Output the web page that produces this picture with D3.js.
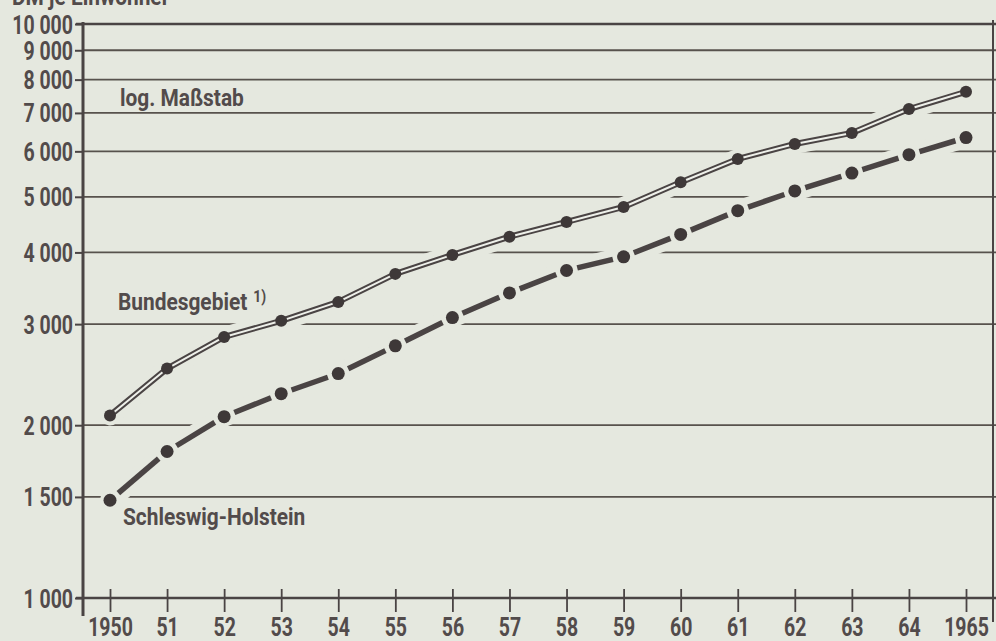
<!DOCTYPE html>
<html>
<head>
<meta charset="utf-8">
<script src="https://cdn.jsdelivr.net/npm/d3@7"></script>
<style>
  html, body { margin: 0; padding: 0; background: #e5e8df; }
  svg { display: block; }
  text { font-family: "Roboto", "DejaVu Sans Condensed", sans-serif; font-weight: bold; fill: #524b4b; }
</style>
</head>
<body>
<svg id="chart" width="996" height="641"></svg>
<script>
// Jahre und Achsenbeschriftung
const years = [1950, 1951, 1952, 1953, 1954, 1955, 1956, 1957, 1958, 1959, 1960, 1961, 1962, 1963, 1964, 1965];
const yearLabels = ["1950", "51", "52", "53", "54", "55", "56", "57", "58", "59", "60", "61", "62", "63", "64", "1965"];

// DM je Einwohner
const bundesgebiet = [2080, 2510, 2850, 3040, 3280, 3670, 3960, 4260, 4520, 4800, 5300, 5820, 6180, 6460, 7110, 7620];
const schleswigHolstein = [1480, 1800, 2070, 2270, 2460, 2750, 3080, 3400, 3720, 3930, 4300, 4730, 5120, 5500, 5920, 6340];

// logarithmische Skala
const yTicks = [1000, 1500, 2000, 3000, 4000, 5000, 6000, 7000, 8000, 9000, 10000];
const gridValues = [1500, 2000, 3000, 4000, 5000, 6000, 7000, 8000, 9000];

const W = 996, H = 641;
const bg = "#e5e8df";
const ink = "#4a4444";
const condenseDigits = 0.78;  // schmale Ziffern
const condenseWords = 0.87;   // schmale Schrift für Beschriftungen

const svg = d3.select("#chart");
svg.append("rect").attr("width", W).attr("height", H).attr("fill", bg);

const x = d3.scaleLinear().domain([1950, 1965]).range([110, 966]);
const y = d3.scaleLog().domain([1000, 10000]).range([598, 24]);

const fmtLabel = v => String(v).replace(/(\d)(?=(\d{3})+$)/g, "$1 ");

// schmal gesetzter Text an (px, py)
function narrowText(parent, px, py, str, size, sx, anchor) {
  const g = parent.append("g").attr("transform", `translate(${px},${py}) scale(${sx},1)`);
  return g.append("text").attr("text-anchor", anchor || "start")
    .style("font-size", size + "px").text(str);
}

// Gitterlinien
svg.append("g").selectAll("line").data(gridValues).join("line")
  .attr("x1", 83).attr("x2", 996)
  .attr("y1", d => y(d)).attr("y2", d => y(d))
  .attr("stroke", "#57524d").attr("stroke-width", 1.8);

// Aussparung der Gitterlinien entlang der Kurven
const line = d3.line().x((d, i) => x(years[i])).y(d => y(d));
[bundesgebiet, schleswigHolstein].forEach(s => {
  svg.append("path").datum(s).attr("d", line)
    .attr("fill", "none").attr("stroke", bg).attr("stroke-width", 20)
    .attr("stroke-linejoin", "round").attr("stroke-linecap", "round");
});

// Rahmen: oben und rechts
svg.append("line").attr("x1", 76).attr("x2", 996).attr("y1", y(10000)).attr("y2", y(10000))
  .attr("stroke", ink).attr("stroke-width", 2.5);
svg.append("line").attr("x1", 993).attr("x2", 993).attr("y1", 20).attr("y2", 622)
  .attr("stroke", ink).attr("stroke-width", 2);

// y-Achse
const yAxis = d3.axisLeft(y).tickValues(yTicks).tickSize(8).tickFormat("");
const gy = svg.append("g").attr("transform", "translate(83,0)").call(yAxis);
gy.select(".domain").remove();
gy.selectAll(".tick text").remove();
gy.selectAll(".tick line").attr("stroke", ink).attr("stroke-width", 2);
gy.selectAll(".tick").each(function(d) {
  narrowText(d3.select(this), -10, 9, fmtLabel(d), 25, condenseDigits, "end");
});
svg.append("line").attr("x1", 83).attr("x2", 83).attr("y1", 22).attr("y2", 616)
  .attr("stroke", ink).attr("stroke-width", 3);

// x-Achse
svg.append("line").attr("x1", 76).attr("x2", 996).attr("y1", 598).attr("y2", 598)
  .attr("stroke", ink).attr("stroke-width", 2.5);
const xAxis = d3.axisBottom(x).tickValues(years).tickSize(0).tickFormat("");
const gx = svg.append("g").attr("transform", "translate(0,598)").call(xAxis);
gx.select(".domain").remove();
gx.selectAll(".tick line").remove();
gx.selectAll(".tick text").remove();
gx.selectAll(".tick").append("line").attr("y1", -9).attr("y2", 14)
  .attr("stroke", ink).attr("stroke-width", 1.8);
gx.selectAll(".tick").each(function(d, i) {
  narrowText(d3.select(this), 0, 38, yearLabels[i], 25, condenseDigits, "middle");
});

// Bundesgebiet: Doppellinie
const gB = svg.append("g");
gB.append("path").datum(bundesgebiet).attr("d", line)
  .attr("fill", "none").attr("stroke", ink).attr("stroke-width", 6).attr("stroke-linejoin", "round");
gB.append("path").datum(bundesgebiet).attr("d", line)
  .attr("fill", "none").attr("stroke", "#eef0ea").attr("stroke-width", 2).attr("stroke-linejoin", "round");
gB.selectAll("circle").data(bundesgebiet).join("circle")
  .attr("cx", (d, i) => x(years[i])).attr("cy", d => y(d)).attr("r", 6).attr("fill", "#3e3838");

// Schleswig-Holstein: Strich zwischen den Punkten
const gS = svg.append("g");
const segs = d3.pairs(schleswigHolstein.map((d, i) => [x(years[i]), y(d)]));
gS.selectAll("line").data(segs).join("line")
  .each(function([a, b]) {
    const dx = b[0] - a[0], dy = b[1] - a[1], len = Math.hypot(dx, dy);
    const ux = dx / len, uy = dy / len, gap = 11;
    d3.select(this)
      .attr("x1", a[0] + ux * gap).attr("y1", a[1] + uy * gap)
      .attr("x2", b[0] - ux * gap).attr("y2", b[1] - uy * gap);
  })
  .attr("stroke", ink).attr("stroke-width", 5.5);
gS.selectAll("circle").data(schleswigHolstein).join("circle")
  .attr("cx", (d, i) => x(years[i])).attr("cy", d => y(d)).attr("r", 6.5).attr("fill", "#3e3838");

// Beschriftungen
narrowText(svg, 12, 5, "DM je Einwohner", 24, condenseWords);
narrowText(svg, 120, 106, "log. Maßstab", 24, condenseWords);
const bLabel = narrowText(svg, 118, 310, "Bundesgebiet", 24, condenseWords);
const bw = bLabel.node().getComputedTextLength() * condenseWords;
narrowText(svg, 118 + bw + 6, 302, "1)", 16, condenseWords);
narrowText(svg, 123, 525, "Schleswig-Holstein", 24, condenseWords);
</script>
</body>
</html>
